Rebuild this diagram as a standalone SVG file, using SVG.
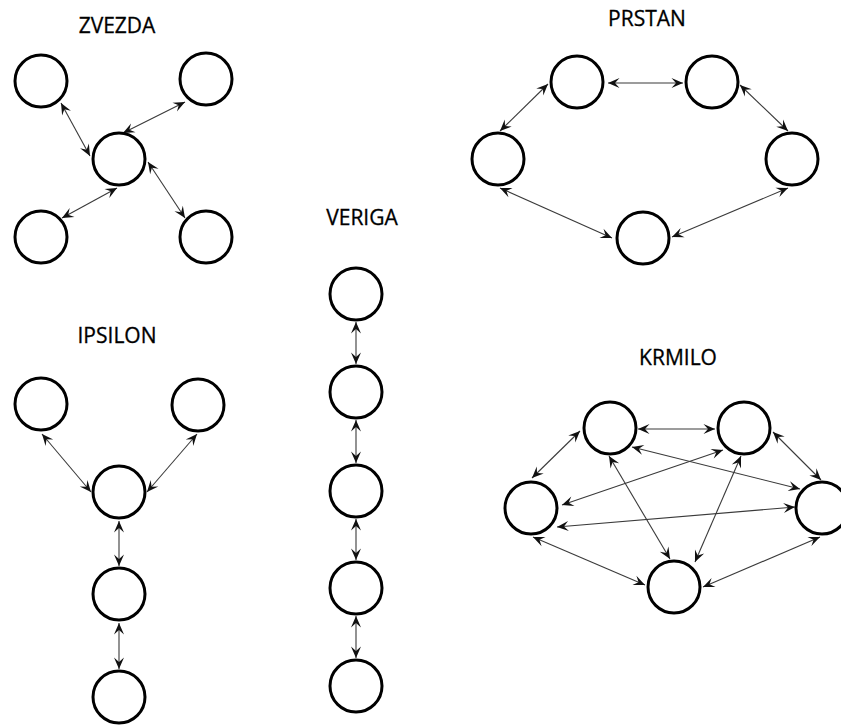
<svg xmlns="http://www.w3.org/2000/svg" width="841" height="725" viewBox="0 0 841 725">
  <defs>
    <marker id="head" viewBox="-13 -6 15 12" refX="0" refY="0" markerWidth="15" markerHeight="12" markerUnits="userSpaceOnUse" orient="auto-start-reverse">
      <path d="M0,0 L-11.5,-5 L-7,0 L-11.5,5 Z" fill="#111"/>
    </marker>
  </defs>
  <style>
    .node { fill: #fff; stroke: #000; stroke-width: 3; }
    .edge { stroke: #3a3a3a; stroke-width: 1.1; fill: none; marker-start: url(#head); marker-end: url(#head); }
    .title { font-family: "Open Sans", "Liberation Sans", sans-serif; font-size: 21px; fill: #000; stroke: #000; stroke-width: 0.3; text-anchor: middle; }
  </style>
  <rect width="841" height="725" fill="#fff"/>

  <!-- titles -->
  <g id="titles">
    <text class="title" x="117" y="33">ZVEZDA</text>
    <text class="title" x="647" y="26">PRSTAN</text>
    <text class="title" x="362" y="225">VERIGA</text>
    <text class="title" x="117" y="343">IPSILON</text>
    <text class="title" x="678" y="365">KRMILO</text>
  </g>

  <!-- connectors -->
  <g id="connectors">
    <!-- star -->
    <line class="edge" x1="61" y1="103" x2="90" y2="156"/>
    <line class="edge" x1="185" y1="102" x2="123" y2="133"/>
    <line class="edge" x1="62" y1="218" x2="117" y2="188"/>
    <line class="edge" x1="185" y1="218" x2="148" y2="162"/>
    <!-- ring -->
    <line class="edge" x1="608" y1="83" x2="683" y2="83"/>
    <line class="edge" x1="548" y1="84" x2="500" y2="131"/>
    <line class="edge" x1="740" y1="85" x2="788" y2="131"/>
    <line class="edge" x1="500" y1="188" x2="612" y2="238"/>
    <line class="edge" x1="788" y1="188" x2="672" y2="237"/>
    <!-- chain -->
    <line class="edge" x1="356" y1="322" x2="356" y2="364"/>
    <line class="edge" x1="356" y1="420" x2="356" y2="463"/>
    <line class="edge" x1="356" y1="519" x2="356" y2="560"/>
    <line class="edge" x1="356" y1="616" x2="356" y2="658"/>
    <!-- upsilon -->
    <line class="edge" x1="42" y1="434" x2="91" y2="492"/>
    <line class="edge" x1="197" y1="434" x2="147" y2="492"/>
    <line class="edge" x1="119" y1="521" x2="119" y2="566"/>
    <line class="edge" x1="119" y1="623" x2="119" y2="669"/>
    <!-- complete graph -->
    <line class="edge" x1="638" y1="429" x2="715" y2="429"/>
    <line class="edge" x1="580" y1="431" x2="532" y2="478"/>
    <line class="edge" x1="773" y1="432" x2="821" y2="480"/>
    <line class="edge" x1="632" y1="447" x2="800" y2="489"/>
    <line class="edge" x1="723" y1="450" x2="562" y2="505"/>
    <line class="edge" x1="557" y1="527" x2="795" y2="507"/>
    <line class="edge" x1="609" y1="456" x2="670" y2="559"/>
    <line class="edge" x1="741" y1="456" x2="695" y2="562"/>
    <line class="edge" x1="533" y1="537" x2="645" y2="585"/>
    <line class="edge" x1="820" y1="537" x2="703" y2="587"/>
  </g>

  <!-- star nodes -->
  <g id="zvezda">
    <g id="z1"><circle class="node" cx="41" cy="81" r="26"/></g>
    <g id="z2"><circle class="node" cx="206" cy="79" r="26"/></g>
    <g id="z3"><circle class="node" cx="119" cy="159" r="26"/></g>
    <g id="z4"><circle class="node" cx="41" cy="237" r="26"/></g>
    <g id="z5"><circle class="node" cx="206" cy="237" r="26"/></g>
  </g>

  <!-- ring nodes -->
  <g id="prstan">
    <g id="p1"><circle class="node" cx="577" cy="82" r="26"/></g>
    <g id="p2"><circle class="node" cx="712" cy="82" r="26"/></g>
    <g id="p3"><circle class="node" cx="498" cy="159" r="26"/></g>
    <g id="p4"><circle class="node" cx="792" cy="159" r="26"/></g>
    <g id="p5"><circle class="node" cx="643" cy="238" r="26"/></g>
  </g>

  <!-- chain nodes -->
  <g id="veriga">
    <g id="v1"><circle class="node" cx="356" cy="294" r="26"/></g>
    <g id="v2"><circle class="node" cx="356" cy="392" r="26"/></g>
    <g id="v3"><circle class="node" cx="356" cy="491" r="26"/></g>
    <g id="v4"><circle class="node" cx="356" cy="588" r="26"/></g>
    <g id="v5"><circle class="node" cx="356" cy="686" r="26"/></g>
  </g>

  <!-- upsilon nodes -->
  <g id="ipsilon">
    <g id="i1"><circle class="node" cx="41" cy="404" r="26"/></g>
    <g id="i2"><circle class="node" cx="198" cy="405" r="26"/></g>
    <g id="i3"><circle class="node" cx="119" cy="492" r="26"/></g>
    <g id="i4"><circle class="node" cx="119" cy="594" r="26"/></g>
    <g id="i5"><circle class="node" cx="119" cy="697" r="26"/></g>
  </g>

  <!-- complete graph nodes -->
  <g id="krmilo">
    <g id="k1"><circle class="node" cx="610" cy="428" r="26"/></g>
    <g id="k2"><circle class="node" cx="744" cy="428" r="26"/></g>
    <g id="k3"><circle class="node" cx="531" cy="508" r="26"/></g>
    <g id="k4"><circle class="node" cx="822" cy="508" r="26"/></g>
    <g id="k5"><circle class="node" cx="674" cy="587" r="26"/></g>
  </g>
</svg>
